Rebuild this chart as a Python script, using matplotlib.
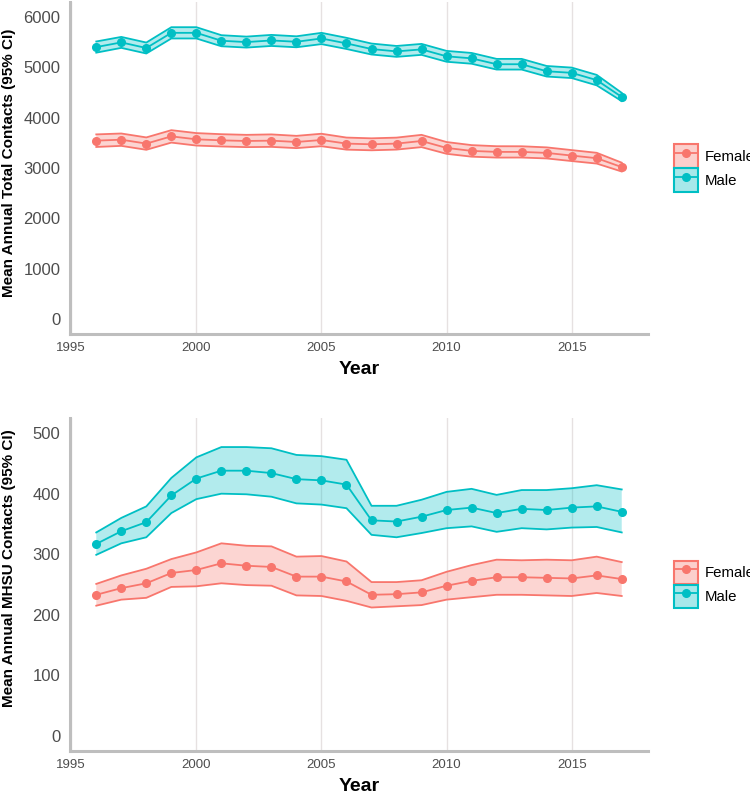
import numpy as np
import matplotlib
matplotlib.use('Agg')
import matplotlib.pyplot as plt
from matplotlib.patches import Patch
from matplotlib.lines import Line2D

plt.rcParams['font.family'] = ['Liberation Sans', 'DejaVu Sans']

years = list(range(1996, 2018))
sexes = ['Female', 'Male']
colors = {'Female': '#F8766D', 'Male': '#00BFC4'}

# total contacts
total_female = [3544, 3563, 3485, 3629, 3570, 3550, 3537, 3544, 3517, 3557, 3485,
                3471, 3485, 3537, 3399, 3340, 3320, 3320, 3300, 3247, 3195, 3018]
total_female_lo = [3418, 3440, 3362, 3505, 3446, 3428, 3415, 3420, 3395, 3433, 3365,
                   3352, 3366, 3415, 3282, 3225, 3207, 3208, 3190, 3138, 3088, 2930]
total_female_hi = [3668, 3686, 3608, 3752, 3694, 3672, 3659, 3668, 3639, 3681, 3605,
                   3590, 3604, 3659, 3516, 3455, 3433, 3432, 3410, 3356, 3302, 3106]
total_male = [5404, 5497, 5385, 5687, 5687, 5530, 5503, 5536, 5509, 5575, 5477,
              5365, 5318, 5358, 5220, 5180, 5063, 5063, 4923, 4892, 4747, 4412]
total_male_lo = [5293, 5388, 5276, 5575, 5575, 5420, 5394, 5426, 5400, 5463, 5366,
                 5256, 5210, 5249, 5112, 5073, 4957, 4957, 4818, 4788, 4643, 4330]
total_male_hi = [5515, 5606, 5494, 5799, 5799, 5640, 5612, 5646, 5618, 5687, 5588,
                 5474, 5426, 5467, 5328, 5287, 5169, 5169, 5028, 4996, 4851, 4494]

# MHSU contacts
mhsu_female = [233, 244, 252, 269, 274, 285, 281, 279, 263, 263, 255,
               233, 234, 237, 248, 256, 262, 262, 261, 260, 265, 259]
mhsu_female_lo = [215, 225, 228, 246, 247, 252, 249, 248, 232, 231, 223,
                  212, 214, 216, 225, 229, 233, 233, 232, 231, 236, 231]
mhsu_female_hi = [251, 265, 276, 292, 303, 318, 314, 313, 296, 297, 288,
                  254, 254, 257, 271, 282, 291, 290, 291, 290, 296, 287]
mhsu_male = [317, 338, 353, 397, 425, 438, 438, 434, 424, 422, 415,
             356, 354, 362, 373, 377, 368, 375, 373, 377, 379, 370]
mhsu_male_lo = [299, 318, 328, 368, 391, 400, 399, 395, 384, 382, 376,
                332, 328, 335, 343, 346, 337, 343, 341, 344, 345, 336]
mhsu_male_hi = [336, 360, 379, 426, 460, 477, 477, 475, 464, 462, 456,
                380, 380, 390, 403, 408, 398, 406, 406, 409, 414, 407]

panels = [
    {'label': 'Mean Annual Total Contacts (95% CI)', 'ylim': (-300, 6300),
     'ticks': [0, 1000, 2000, 3000, 4000, 5000, 6000], 'label_y': 0.515,
     'data': {'Female': (total_female, total_female_lo, total_female_hi),
              'Male': (total_male, total_male_lo, total_male_hi)}},
    {'label': 'Mean Annual MHSU Contacts (95% CI)', 'ylim': (-25, 525),
     'ticks': [0, 100, 200, 300, 400, 500], 'label_y': 0.55,
     'data': {'Female': (mhsu_female, mhsu_female_lo, mhsu_female_hi),
              'Male': (mhsu_male, mhsu_male_lo, mhsu_male_hi)}},
]

fig = plt.figure(figsize=(7.5, 7.96), dpi=100)
W, H = 750.0, 796.0
boxes = [(70, 2, 648, 334), (70, 418, 648, 751)]

for p, (x0, y0, x1, y1) in zip(panels, boxes):
    ax = fig.add_axes([x0 / W, 1 - y1 / H, (x1 - x0) / W, (y1 - y0) / H])
    handles = []
    for s in sexes:
        m, lo, hi = p['data'][s]
        c = colors[s]
        ax.fill_between(years, lo, hi, facecolor=c, alpha=0.3, lw=0)
        ax.plot(years, lo, color=c, lw=1.3)
        ax.plot(years, hi, color=c, lw=1.3)
        ax.plot(years, m, color=c, lw=1.3, marker='o', ms=5.5)
        handles.append((Patch(facecolor=c, alpha=0.35, edgecolor='none'),
                        Patch(facecolor='none', edgecolor=c, lw=1.5),
                        Line2D([], [], color=c, lw=1.3, marker='o', ms=5.5)))
    ax.set_xlim(1994.95, 2018.05)
    ax.set_ylim(*p['ylim'])
    ax.set_xticks([1995, 2000, 2005, 2010, 2015])
    ax.set_yticks(p['ticks'])
    ax.grid(axis='x', color='#E6E1E1', lw=1.0)
    ax.set_axisbelow(True)
    for side in ['top', 'right']:
        ax.spines[side].set_visible(False)
    for side in ['left', 'bottom']:
        ax.spines[side].set_color('#BEBEBE')
        ax.spines[side].set_linewidth(2.2)
    ax.tick_params(length=0, labelcolor='#4D4D4D')
    ax.tick_params(axis='y', labelsize=12, pad=7)
    ax.tick_params(axis='x', labelsize=9.5, pad=6)
    ax.set_ylabel(p['label'], fontsize=11, fontweight='bold')
    ax.yaxis.set_label_coords(-54 / (x1 - x0), p['label_y'])
    ax.set_xlabel('Year', fontsize=14, fontweight='bold', labelpad=5)
    leg = ax.legend(handles, sexes, loc='center left', bbox_to_anchor=(1.045, 0.5),
                    frameon=False, fontsize=10.8, handlelength=1.6, handleheight=2.0,
                    labelspacing=0.05, handletextpad=0.45, borderaxespad=0,
                    borderpad=0)

fig.savefig('out.png', dpi=100)
